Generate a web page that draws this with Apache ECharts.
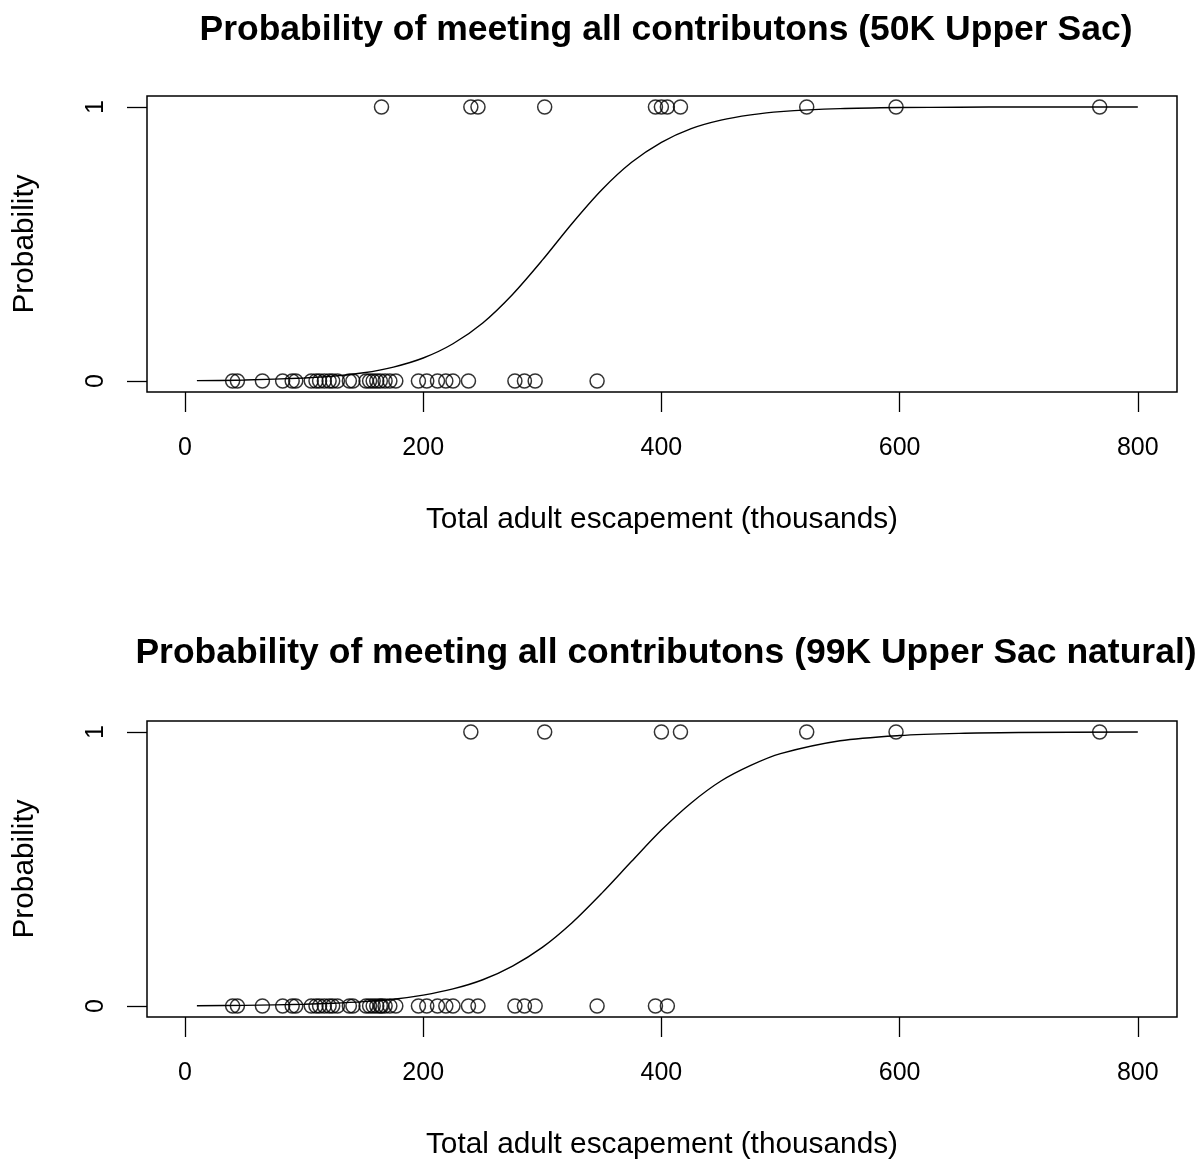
<!DOCTYPE html>
<html><head><meta charset="utf-8">
<style>html,body{margin:0;padding:0;background:#fff}#c{width:1202px;height:1161px}</style>
<script src="https://cdn.jsdelivr.net/npm/echarts@6/dist/echarts.min.js"></script>
</head><body><div id="c"></div>
<script>
var titles = ['Probability of meeting all contributons (50K Upper Sac)', 'Probability of meeting all contributons (99K Upper Sac natural)'];
var xTitle = 'Total adult escapement (thousands)';
var yTitle = 'Probability';
var xTicks = [0, 200, 400, 600, 800];
var yTicks = [0, 1];
// observed escapements (thousands) with outcome 0 / 1
var top0 = [40, 44, 65, 82, 90, 93, 106, 110, 113, 117, 121, 124, 128, 138, 141, 152, 155, 158, 161, 164, 168, 172, 177, 196, 203, 212, 219, 225, 238, 277, 285, 294, 346];
var top1 = [165, 240, 246, 302, 395, 400, 405, 416, 522, 597, 768];
var bot0 = [40, 44, 65, 82, 90, 93, 106, 110, 113, 117, 121, 124, 128, 138, 141, 152, 155, 158, 161, 164, 165, 168, 172, 177, 196, 203, 212, 219, 225, 238, 246, 277, 285, 294, 346, 395, 405];
var bot1 = [240, 302, 400, 416, 522, 597, 768];
// fitted curves
var curveX = [10, 50, 100, 125, 150, 175, 200, 225, 250, 275, 300, 325, 350, 375, 400, 425, 450, 475, 500, 550, 600, 650, 700, 800];
var topCurve = [0.0015, 0.0036, 0.011, 0.018, 0.030, 0.051, 0.084, 0.136, 0.212, 0.316, 0.441, 0.575, 0.698, 0.798, 0.871, 0.921, 0.952, 0.971, 0.983, 0.994, 0.998, 0.999, 1.0, 1.0];
var botCurve = [0.0012, 0.0025, 0.0063, 0.010, 0.016, 0.025, 0.040, 0.0625, 0.096, 0.146, 0.214, 0.304, 0.412, 0.528, 0.642, 0.741, 0.821, 0.878, 0.921, 0.968, 0.987, 0.995, 0.998, 1.0];

var FONT = '"Liberation Sans", Arial, Helvetica, sans-serif';
var chart = echarts.init(document.getElementById('c'));
var gridTops = [96, 721];
var titleTops = [7, 630];

function pts(arr, y) { return arr.map(function (v) { return [v, y]; }); }
function curve(ys) { return curveX.map(function (x, i) { return [x, ys[i]]; }); }

var grids = [], xAxes = [], yAxes = [], series = [], titleArr = [];
var panels = [[top0, top1, topCurve], [bot0, bot1, botCurve]];
panels.forEach(function (p, i) {
  titleArr.push({
    text: titles[i], left: 661, top: titleTops[i], textAlign: 'center',
    textStyle: { fontFamily: FONT, fontSize: 35.5, fontWeight: 'bold', color: '#000' }
  });
  grids.push({ left: 147, width: 1030, top: gridTops[i], height: 296, show: true, borderColor: '#000', borderWidth: 1.5, backgroundColor: 'transparent' });
  xAxes.push({
    gridIndex: i, type: 'value', min: -31.9, max: 832.9, position: 'bottom',
    name: xTitle, nameLocation: 'middle', nameGap: 113,
    nameTextStyle: { fontFamily: FONT, fontSize: 29.8, color: '#000' },
    axisLine: { show: false, onZero: false }, splitLine: { show: false },
    axisTick: { show: true, inside: false, length: 20, customValues: xTicks, lineStyle: { color: '#000', width: 1.3 } },
    axisLabel: { show: true, inside: false, customValues: xTicks, margin: 44, fontFamily: FONT, fontSize: 25, color: '#000' }
  });
  yAxes.push({
    gridIndex: i, type: 'value', min: -0.04, max: 1.04, position: 'left',
    name: yTitle, nameLocation: 'middle', nameGap: 107, nameRotate: 90,
    nameTextStyle: { fontFamily: FONT, fontSize: 29.8, color: '#000' },
    axisLine: { show: false, onZero: false }, splitLine: { show: false },
    axisTick: { show: true, inside: false, length: 20, customValues: yTicks, lineStyle: { color: '#000', width: 1.3 } },
    axisLabel: { show: true, inside: false, customValues: yTicks, rotate: 90, margin: 38, fontFamily: FONT, fontSize: 25, color: '#000' }
  });
  series.push({
    type: 'line', xAxisIndex: i, yAxisIndex: i, data: curve(p[2]), showSymbol: false, smooth: 0.3,
    lineStyle: { color: '#000', width: 1.4 }, silent: true, z: 2
  });
  series.push({
    type: 'scatter', xAxisIndex: i, yAxisIndex: i, data: pts(p[0], 0), symbol: 'circle', symbolSize: 14,
    itemStyle: { color: 'transparent', borderColor: '#000', borderWidth: 1.5 }, z: 3
  });
  series.push({
    type: 'scatter', xAxisIndex: i, yAxisIndex: i, data: pts(p[1], 1), symbol: 'circle', symbolSize: 14,
    itemStyle: { color: 'transparent', borderColor: '#000', borderWidth: 1.5 }, z: 3
  });
});

chart.setOption({
  animation: false,
  backgroundColor: '#fff',
  title: titleArr,
  grid: grids, xAxis: xAxes, yAxis: yAxes, series: series
});
</script></body></html>
